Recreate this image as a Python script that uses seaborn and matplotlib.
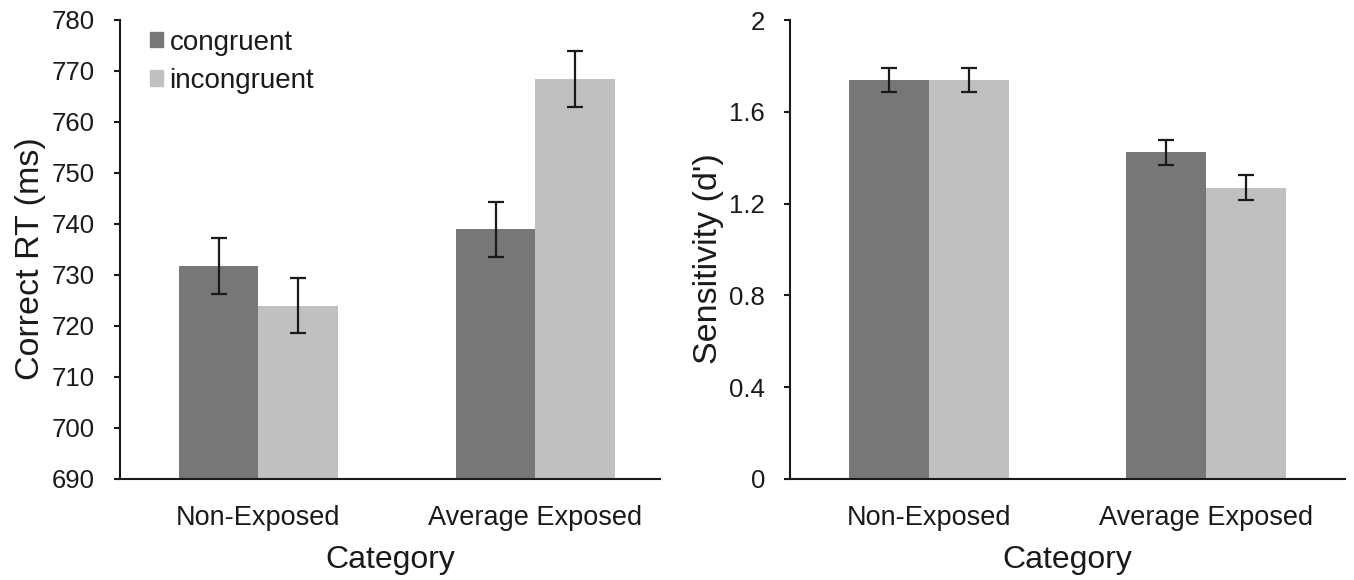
import matplotlib
matplotlib.use("Agg")
import matplotlib.pyplot as plt
import pandas as pd
import seaborn as sns
from matplotlib.ticker import FixedLocator

# data
categories = ["Non-Exposed", "Average Exposed"]
conditions = ["congruent", "incongruent"]
rt_congruent = [731.7, 739.0]
rt_incongruent = [724.0, 768.4]
rt_err_congruent = [5.5, 5.4]
rt_err_incongruent = [5.4, 5.5]
dp_congruent = [1.737, 1.423]
dp_incongruent = [1.737, 1.270]
dp_err_congruent = [0.052, 0.056]
dp_err_incongruent = [0.052, 0.055]

rt_ticks = [690, 700, 710, 720, 730, 740, 750, 760, 770, 780]
dp_ticks = [0, 0.4, 0.8, 1.2, 1.6, 2.0]
dp_ticklabels = ["0", "0.4", "0.8", "1.2", "1.6", "2"]

colors = ["#777777", "#c0c0c0"]
ink = "#1a1a1a"

sns.set_style("white")
plt.rcParams['font.family'] = ['Liberation Sans', 'DejaVu Sans']


def make_df(cong, incong):
    rows = []
    for c, v in zip(categories, cong):
        rows.append({"Category": c, "cond": "congruent", "value": v})
    for c, v in zip(categories, incong):
        rows.append({"Category": c, "cond": "incongruent", "value": v})
    return pd.DataFrame(rows)


def draw(ax, cong, incong, err_c, err_i, ylim, yticks, ylabel, yticklabels=None, xmax=1.5):
    df = make_df(cong, incong)
    sns.barplot(data=df, x="Category", y="value", hue="cond", order=categories,
                hue_order=conditions, palette=colors, width=0.575, errorbar=None,
                saturation=1, ax=ax, legend=False, linewidth=0)
    # error bars drawn at the bar centres that seaborn picked
    for cont, errs in zip(ax.containers, [err_c, err_i]):
        xs = [b.get_x() + b.get_width() / 2 for b in cont]
        ys = [b.get_y() + b.get_height() for b in cont]
        ax.errorbar(xs, ys, yerr=errs, fmt="none", ecolor=ink, elinewidth=1.6,
                    capsize=6, capthick=1.6, zorder=5)
    ax.set_ylim(*ylim)
    ax.set_xlim(-0.5, xmax)
    ax.set_yticks(yticks)
    if yticklabels:
        ax.set_yticklabels(yticklabels)
    ax.xaxis.set_minor_locator(FixedLocator([-0.5, 0.5, 1.5]))
    ax.tick_params(axis="x", which="major", length=0, pad=19, labelsize=19.5, colors=ink)
    ax.tick_params(axis="x", which="minor", length=6, width=1.5, direction="out", color=ink)
    ax.tick_params(axis="y", length=4, width=1.5, direction="out", pad=14, labelsize=18.5,
                   colors=ink, left=True)
    sns.despine(ax=ax)
    for s in ["left", "bottom"]:
        ax.spines[s].set_linewidth(1.5)
        ax.spines[s].set_color(ink)
    ax.set_xlabel("Category", fontsize=23, color=ink, labelpad=10)
    ax.set_ylabel(ylabel, fontsize=24.5, color=ink, labelpad=4)
    ax.yaxis.label.set_y(0.48)


fig = plt.figure(figsize=(13.54, 5.80), dpi=100)
ax1 = fig.add_axes([120 / 1354, 101 / 580, 540 / 1354, 459 / 580])
ax2 = fig.add_axes([790 / 1354, 101 / 580, 555 / 1354, 459 / 580])

draw(ax1, rt_congruent, rt_incongruent, rt_err_congruent, rt_err_incongruent,
     (690, 780), rt_ticks, "Correct RT (ms)", xmax=1.45)
draw(ax2, dp_congruent, dp_incongruent, dp_err_congruent, dp_err_incongruent,
     (0, 2), dp_ticks, "Sensitivity (d')", yticklabels=dp_ticklabels)

handles = [plt.Rectangle((0, 0), 1, 1, color=c) for c in colors]
ax1.legend(handles, conditions, loc="upper left", bbox_to_anchor=(0.056, 0.979),
           frameon=False, fontsize=20, handlelength=0.47, handleheight=0.47,
           handletextpad=0.22, labelspacing=0.44, borderpad=0, borderaxespad=0,
           labelcolor=ink)

fig.savefig("out.png", dpi=100)
